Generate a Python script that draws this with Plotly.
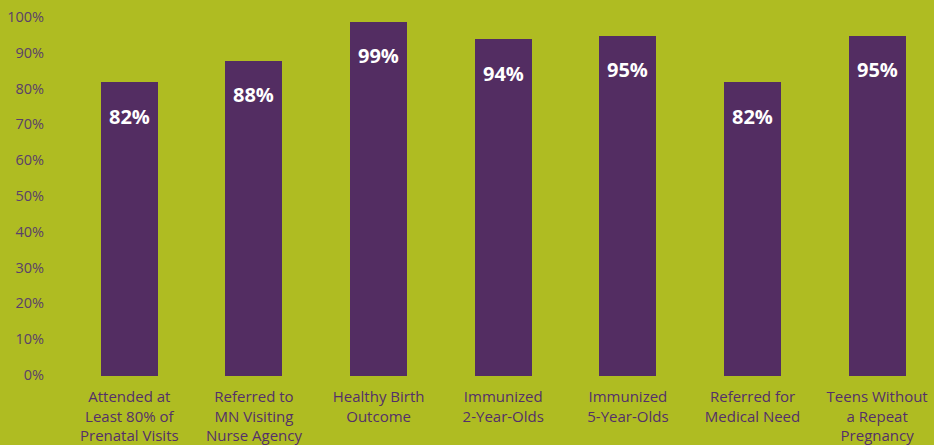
import plotly.graph_objects as go

categories = [
    "Attended at<br>Least 80% of<br>Prenatal Visits",
    "Referred to<br>MN Visiting<br>Nurse Agency",
    "Healthy Birth<br>Outcome",
    "Immunized<br>2-Year-Olds",
    "Immunized<br>5-Year-Olds",
    "Referred for<br>Medical Need",
    "Teens Without<br>a Repeat<br>Pregnancy",
]
values = [82, 88, 99, 94, 95, 82, 95]
tick_vals = [0, 10, 20, 30, 40, 50, 60, 70, 80, 90, 100]
tick_text = [f"{v}%" for v in tick_vals]

BG = "#afbc22"
BAR = "#532d62"
TXT = "#54306a"

x_idx = list(range(len(categories)))

fig = go.Figure()
fig.add_trace(go.Bar(
    x=x_idx, y=values, marker=dict(color=BAR, line=dict(width=0)), width=0.457,
    hoverinfo="skip",
))

for i, v in zip(x_idx, values):
    fig.add_annotation(
        x=i, y=v, text=f"<b>{v}%</b>", showarrow=False,
        yshift=-34, yanchor="middle",
        font=dict(family="Open Sans", size=20, color="white"),
    )

fig.update_layout(
    width=934, height=445,
    paper_bgcolor=BG, plot_bgcolor=BG,
    margin=dict(l=67, r=0, t=18, b=67),
    showlegend=False,
    bargap=0,
)
fig.update_xaxes(
    range=[-0.5, 6.456], tickmode="array", tickvals=x_idx, ticktext=categories,
    tickfont=dict(family="Open Sans", size=15, color=TXT),
    showgrid=False, zeroline=False, showline=False, ticks="",
    tickangle=0, fixedrange=True, ticklabelstandoff=10,
)
fig.update_yaxes(
    range=[0, 100], tickmode="array", tickvals=tick_vals, ticktext=tick_text,
    tickfont=dict(family="Open Sans", size=14.5, color="#5a3f6a"),
    showgrid=False, zeroline=False, showline=False, ticks="",
    ticklabelshift=-1, ticklabelstandoff=22, fixedrange=True,
)

fig.write_html(
    "out.html",
    config={"displayModeBar": False},
    post_script="document.body.style.margin='0';document.body.style.background='" + BG + "';",
)
